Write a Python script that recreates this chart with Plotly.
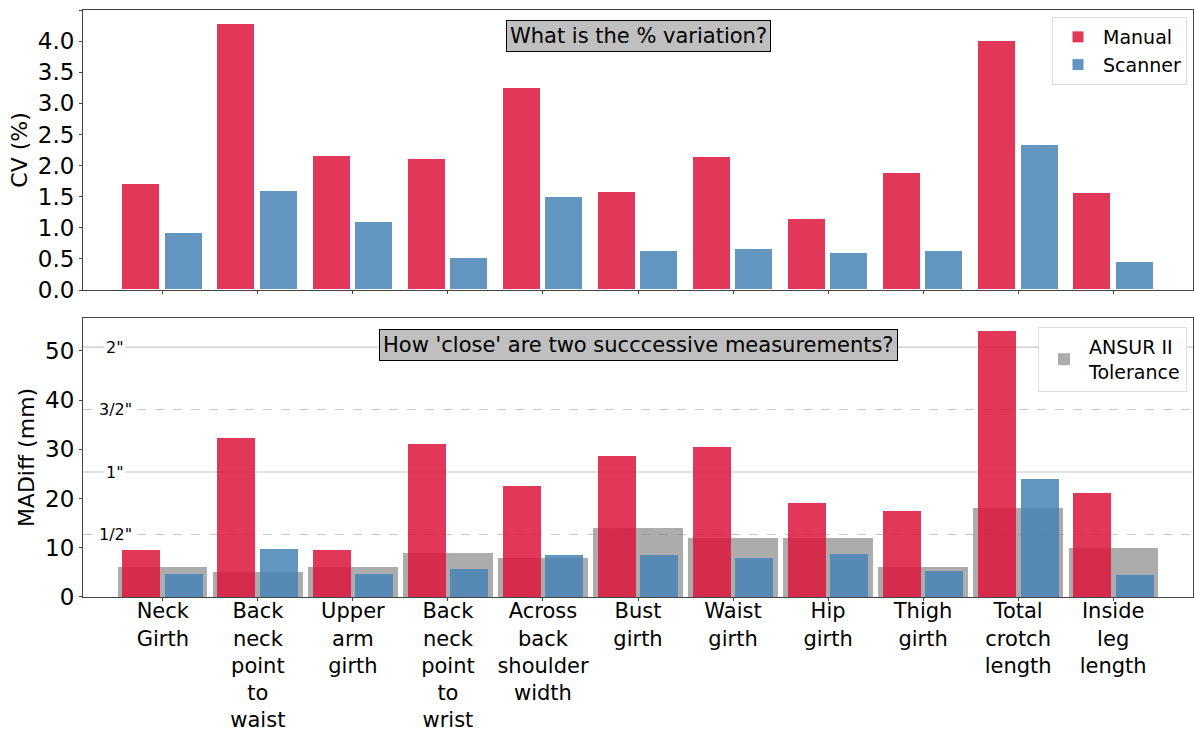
import plotly.graph_objects as go

categories = ["Neck<br>Girth", "Back<br>neck<br>point<br>to<br>waist", "Upper<br>arm<br>girth",
              "Back<br>neck<br>point<br>to<br>wrist", "Across<br>back<br>shoulder<br>width",
              "Bust<br>girth", "Waist<br>girth", "Hip<br>girth", "Thigh<br>girth",
              "Total<br>crotch<br>length", "Inside<br>leg<br>length"]
cv_manual = [1.70, 4.28, 2.15, 2.10, 3.24, 1.57, 2.14, 1.14, 1.88, 4.00, 1.56]
cv_scanner = [0.91, 1.59, 1.09, 0.51, 1.49, 0.63, 0.66, 0.60, 0.63, 2.33, 0.45]
mad_manual = [9.6, 32.3, 9.6, 31.1, 22.6, 28.7, 30.5, 19.1, 17.5, 54.0, 21.2]
mad_scanner = [4.7, 9.7, 4.7, 5.6, 8.6, 8.6, 7.9, 8.8, 5.2, 24.0, 4.5]
ansur_tol = [6, 5, 6, 9, 8, 14, 12, 12, 6, 18, 10]
ref_values = [12.7, 25.4, 38.1, 50.8]
ref_labels = ['1/2"', '1"', '3/2"', '2"']
ref_dash = ['dash', 'solid', 'dash', 'solid']

xpos = list(range(len(categories)))
RED = "rgba(220,20,60,0.85)"
BLUE = "rgba(70,130,180,0.85)"
FONT = "DejaVu Sans"

fig = go.Figure()
# top panel
fig.add_trace(go.Bar(x=xpos, y=cv_manual, name="Manual", marker=dict(color=RED, line=dict(color="white", width=1)),
                     offset=-0.425, width=0.4, xaxis="x", yaxis="y", legend="legend"))
fig.add_trace(go.Bar(x=xpos, y=cv_scanner, name="Scanner", marker=dict(color=BLUE, line=dict(color="white", width=1)),
                     offset=0.025, width=0.4, xaxis="x", yaxis="y", legend="legend"))
# bottom panel
fig.add_trace(go.Bar(x=xpos, y=ansur_tol, name="ANSUR II<br>Tolerance", marker=dict(color="rgba(128,128,128,0.65)", line=dict(width=0)),
                     offset=-0.47, width=0.94, xaxis="x2", yaxis="y2", legend="legend2"))
fig.add_trace(go.Bar(x=xpos, y=mad_manual, name="Manual", marker=dict(color=RED, line=dict(width=0)),
                     offset=-0.425, width=0.4, xaxis="x2", yaxis="y2", showlegend=False))
fig.add_trace(go.Bar(x=xpos, y=mad_scanner, name="Scanner", marker=dict(color=BLUE, line=dict(width=0)),
                     offset=0.025, width=0.4, xaxis="x2", yaxis="y2", showlegend=False))

shapes = []
annotations = []
for v, lab, d in zip(ref_values, ref_labels, ref_dash):
    shapes.append(dict(type="line", xref="x2 domain", yref="y2", x0=0, x1=1, y0=v, y1=v,
                       line=dict(color="#c8c8c8", width=1.2, dash=d), layer="below"))
    annotations.append(dict(x=-0.5, y=v, xref="x2", yref="y2", text=lab, showarrow=False,
                            font=dict(family=FONT, size=16, color="black"), bgcolor="white",
                            xanchor="center", yanchor="middle", borderpad=1))

annotations.append(dict(x=0.5, y=0.965, xref="x domain", yref="y domain", text="What is the % variation?",
                        showarrow=False, font=dict(family=FONT, size=21, color="black"), bgcolor="#bfbfbf",
                        bordercolor="black", borderwidth=1, borderpad=3, xanchor="center", yanchor="top"))
annotations.append(dict(x=0.5, y=0.96, xref="x2 domain", yref="y2 domain",
                        text="How 'close' are two succcessive measurements?",
                        showarrow=False, font=dict(family=FONT, size=21, color="black"), bgcolor="#bfbfbf",
                        bordercolor="black", borderwidth=1, borderpad=3, xanchor="center", yanchor="top"))

axis_common = dict(showline=True, linecolor="#444", linewidth=1, mirror=True, ticks="outside",
                   ticklen=3, tickcolor="#444", showgrid=False, zeroline=False)

fig.update_layout(
    width=1194, height=731,
    margin=dict(l=83, r=1, t=10, b=134, autoexpand=False),
    paper_bgcolor="white", plot_bgcolor="white",
    barmode="overlay", bargap=0,
    font=dict(family=FONT, color="black"),
    xaxis=dict(domain=[0, 1], anchor="y", range=[-0.84, 10.84], tickvals=xpos, showticklabels=False, **axis_common),
    yaxis=dict(domain=[0.523, 1], anchor="x", range=[0, 4.5], dtick=0.5, tickformat=".1f",
               tickfont=dict(size=23), title=dict(text="CV (%)", font=dict(size=22), standoff=4), **axis_common),
    xaxis2=dict(domain=[0, 1], anchor="y2", range=[-0.84, 10.84], tickvals=xpos, ticktext=categories,
                tickfont=dict(size=21), ticklabelstandoff=-8, **axis_common),
    yaxis2=dict(domain=[0, 0.4753], anchor="x2", range=[0, 56.7], dtick=10,
                tickfont=dict(size=23), title=dict(text="MADiff (mm)", font=dict(size=22), standoff=4), **axis_common),
    legend=dict(x=0.9946, y=0.988, xanchor="right", yanchor="top", bgcolor="white",
                bordercolor="#dddddd", borderwidth=1, font=dict(size=19), tracegroupgap=2, itemwidth=40),
    legend2=dict(x=0.9946, y=0.46, xanchor="right", yanchor="top", bgcolor="white",
                 bordercolor="#dddddd", borderwidth=1, font=dict(size=19), itemwidth=40),
    shapes=shapes, annotations=annotations,
)

fig.write_html("out.html", config={"displayModeBar": False},
               post_script="document.body.style.margin='0';document.body.style.padding='0';")
